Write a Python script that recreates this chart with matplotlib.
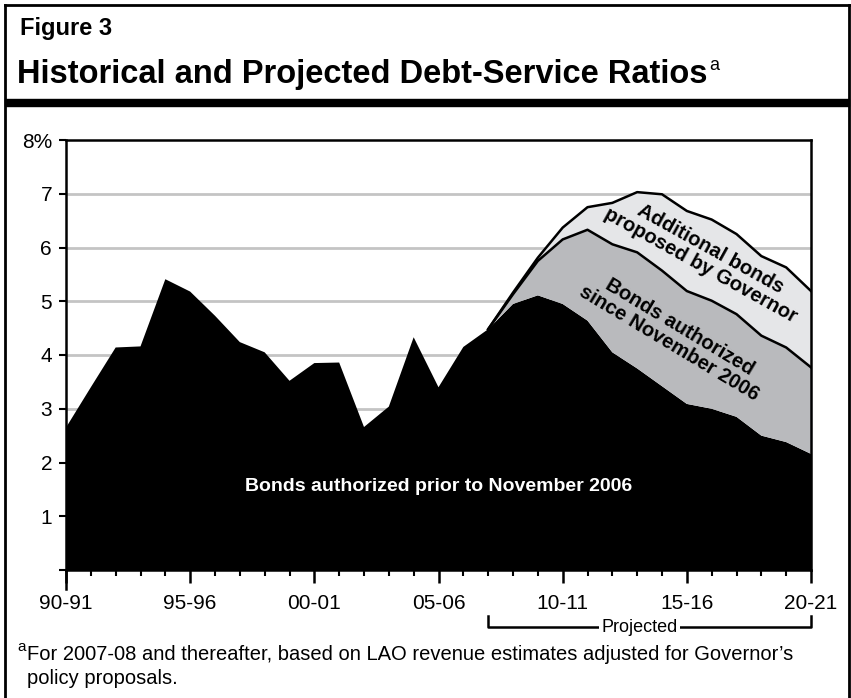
import matplotlib
matplotlib.use("Agg")
import matplotlib.pyplot as plt
import matplotlib.transforms as mtransforms
from matplotlib.lines import Line2D
from matplotlib.patches import Rectangle
import numpy as np

plt.rcParams['font.family'] = ['Liberation Sans', 'DejaVu Sans']

# ---- data ----
years = list(range(1990, 2021))  # fiscal year start
tick_years = [1990, 1995, 2000, 2005, 2010, 2015, 2020]
tick_labels = ["90-91", "95-96", "00-01", "05-06", "10-11", "15-16", "20-21"]
yticks = [0, 1, 2, 3, 4, 5, 6, 7, 8]
ytick_labels = ["", "1", "2", "3", "4", "5", "6", "7", "8%"]

prior_2006 = [2.65, 3.40, 4.14, 4.16, 5.41, 5.18, 4.73, 4.24, 4.05, 3.52,
              3.85, 3.86, 2.66, 3.04, 4.33, 3.40, 4.15, 4.48, 4.95, 5.11,
              4.95, 4.64, 4.05, 3.75, 3.42, 3.09, 3.00, 2.85, 2.50, 2.38, 2.16]
since_2006 = [0]*17 + [0.00, 0.18, 0.64, 1.20, 1.69, 2.01, 2.16, 2.15, 2.10,
                       2.01, 1.91, 1.86, 1.76, 1.61]
governor = [0]*17 + [0.00, 0.03, 0.06, 0.22, 0.42, 0.77, 1.12, 1.42, 1.49,
                     1.51, 1.49, 1.48, 1.49, 1.42]
proj_start = 2007

W, H = 851, 698
fig = plt.figure(figsize=(W/100, H/100), dpi=100)

def fx(px):
    return px / W

def fy(py):
    return 1 - py / H

# outer frame
for (x0, y0, x1, y1, lw) in [(5, 5, 849, 5, 2.0), (5, 5, 5, 698, 2.0), (849, 5, 849, 698, 2.0)]:
    fig.add_artist(Line2D([fx(x0), fx(x1)], [fy(y0), fy(y1)], color='black', lw=lw,
                          transform=fig.transFigure))
fig.add_artist(Rectangle((fx(5), fy(106)), fx(844), 7/H, color='black',
                         transform=fig.transFigure))

fig.text(fx(20), fy(28), "Figure 3", fontsize=17, fontweight='bold', va='center', ha='left')
title = fig.text(fx(17), fy(74), "Historical and Projected Debt-Service Ratios",
                 fontsize=23.5, fontweight='bold', va='center', ha='left')
fig.canvas.draw()
bb = title.get_window_extent(renderer=fig.canvas.get_renderer())
fig.text(bb.x1 / W + fx(2), fy(66), "a", fontsize=13, va='center', ha='left')

ax = fig.add_axes([fx(66), fy(570), fx(745), 430/H])
x = np.array(years)
b = np.array(prior_2006)
s = np.array(since_2006)
g = np.array(governor)

ax.stackplot(x, b, s, g, colors=['black', '#b9babd', '#e5e6e8'], lw=0, zorder=2)
mask = x >= proj_start
ax.plot(x[mask], (b + s)[mask], color='black', lw=1.8, zorder=3)
ax.plot(x[mask], (b + s + g)[mask], color='black', lw=1.8, zorder=3)

ax.set_xlim(1990, 2020)
ax.set_ylim(0, 8)
for yv in range(1, 8):
    ax.axhline(yv, color='#c4c4c4', lw=2, zorder=1)

for sp in ax.spines.values():
    sp.set_linewidth(1.8)
    sp.set_color('black')
ax.spines['left'].set_zorder(4)

ax.set_yticks(yticks)
ax.set_yticklabels(ytick_labels, fontsize=15)
ax.set_xticks(tick_years)
ax.set_xticklabels(tick_labels, fontsize=15)
ax.set_xticks(years, minor=True)
ax.tick_params(axis='y', direction='out', length=5, width=1.5, pad=5)
ax.tick_params(axis='x', which='major', direction='out', length=9, width=1.8, pad=8)
ax.tick_params(axis='x', which='minor', direction='out', length=4, width=1.5)
# left axis extends below the baseline
tr_x = mtransforms.blended_transform_factory(ax.transData, fig.transFigure)
ax.plot([1990, 1990], [fy(570), fy(589)], color='black', lw=1.8, transform=tr_x,
        clip_on=False)

# annotations
ax.text(2015.75, 5.82, "Additional bonds\nproposed by Governor", rotation=-29,
        fontsize=14.5, fontweight='bold', ha='center', va='center',
        rotation_mode='anchor', linespacing=1.05, zorder=5)
ax.text(2014.5, 4.37, "Bonds authorized\nsince November 2006", rotation=-31,
        fontsize=14.5, fontweight='bold', ha='center', va='center',
        rotation_mode='anchor', linespacing=1.05, zorder=5)
ax.text(2005.0, 1.55, "Bonds authorized prior to November 2006", color='white',
        fontsize=14, fontweight='bold', ha='center', va='center', zorder=5)

# projected bracket
yb = fy(627)
yt = fy(616)
ax.plot([proj_start, proj_start, 2020, 2020], [yt, yb, yb, yt], color='black', lw=1.8,
        transform=tr_x, clip_on=False)
ax.text(2013.1, yb, "Projected", transform=tr_x, fontsize=13, ha='center', va='center',
        bbox=dict(facecolor='white', edgecolor='none', pad=1.5), clip_on=False)

# footnote
fig.text(fx(17), fy(647), "a", fontsize=11, va='center', ha='left')
fig.text(fx(27), fy(655), "For 2007-08 and thereafter, based on LAO revenue estimates adjusted for Governor\u2019s",
         fontsize=14.5, va='center', ha='left')
fig.text(fx(27), fy(679), "policy proposals.", fontsize=14.5, va='center', ha='left')

fig.savefig("out.png", dpi=100)
